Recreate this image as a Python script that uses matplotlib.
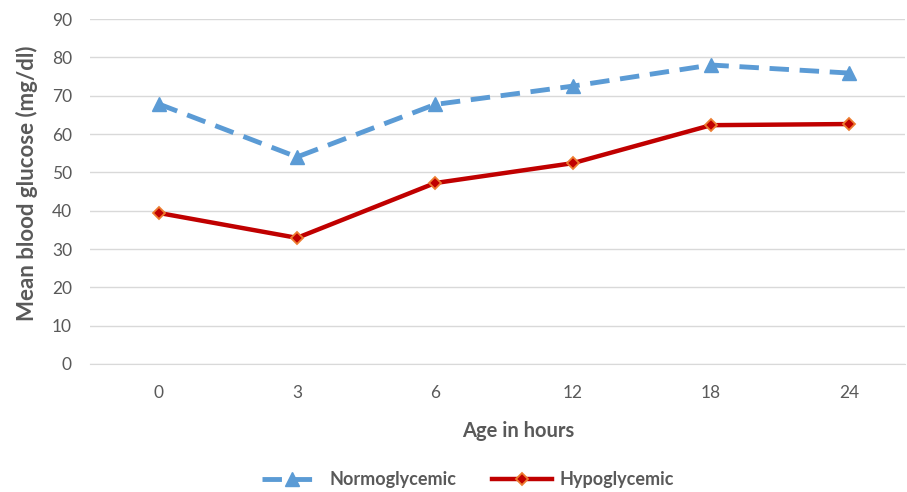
import matplotlib
matplotlib.use("Agg")
import matplotlib.pyplot as plt

categories = ["0", "3", "6", "12", "18", "24"]
normo = [67.8, 54.0, 67.7, 72.5, 78.0, 75.9]
hypo = [39.4, 32.9, 47.2, 52.4, 62.3, 62.6]

plt.rcParams['font.family'] = ['Lato', 'DejaVu Sans']
grey = '#595959'

fig = plt.figure(figsize=(9.07, 4.92), dpi=100)
ax = fig.add_axes([90/907, 1-364/492, (905-90)/907, (364-19)/492])
x = list(range(len(categories)))

ax.plot(x, normo, color='#5B9BD5', lw=3.5, dashes=(4, 2.2), marker='^', ms=10,
        mfc='#5B9BD5', mec='#5B9BD5', label='Normoglycemic', zorder=3)
ax.plot(x, hypo, color='#C00000', lw=3.2, marker='D', ms=6.5,
        mfc='#C00000', mec='#ED7D31', mew=1.3, label='Hypoglycemic', zorder=3)

ax.set_ylim(0, 90)
ax.set_yticks(range(0, 91, 10))
ax.set_xlim(-0.5, (905-159)/138)
ax.set_xticks(x)
ax.set_xticklabels(categories)
ax.grid(axis='y', color='#D9D9D9', lw=1)
ax.set_axisbelow(True)
for s in ['top', 'right', 'left']:
    ax.spines[s].set_visible(False)
ax.spines['bottom'].set_color('#D9D9D9')
ax.tick_params(axis='both', length=0, labelsize=12.5, colors=grey)
ax.tick_params(axis='x', pad=15)
ax.tick_params(axis='y', pad=13)

ax.set_ylabel('Mean blood glucose (mg/dl)', fontsize=16, fontweight='bold', color=grey)
ax.set_xlabel('Age in hours', fontsize=14.5, fontweight='bold', color=grey)
ax.yaxis.set_label_coords((38 - 90) / 815, (364 - 183) / 345)
ax.xaxis.set_label_coords((518 - 90) / 815, -(421 - 364) / 345)

leg = fig.legend(loc='center', bbox_to_anchor=(468/907, 1-480/492), ncol=2, frameon=False,
                 fontsize=13, handlelength=3.3, columnspacing=2.0, handletextpad=0.4)
for t in leg.get_texts():
    t.set_color(grey)
    t.set_fontweight('bold')

fig.savefig('out.png', dpi=100)
